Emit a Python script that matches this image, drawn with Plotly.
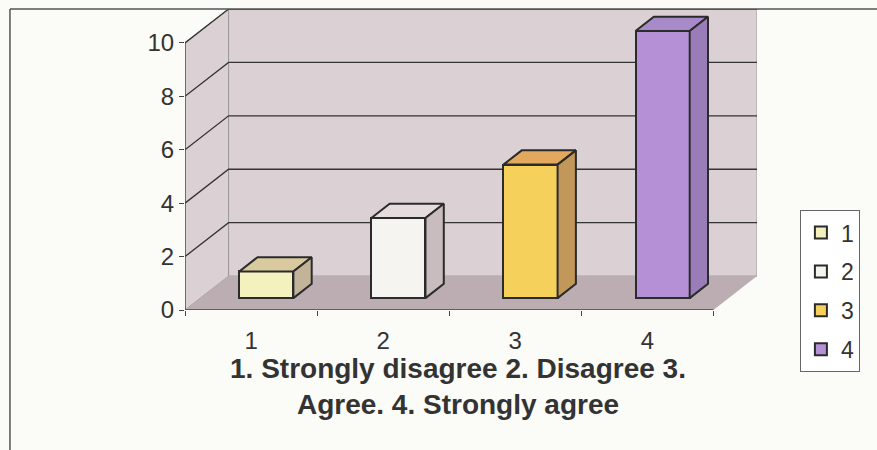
import plotly.graph_objects as go

# ---- data ----
categories = [1, 2, 3, 4]
cat_labels = ["1", "2", "3", "4"]
values = [1, 3, 5, 10]
series_names = ["1", "2", "3", "4"]
y_ticks = [0, 2, 4, 6, 8, 10]
title_text = "<b>1. Strongly disagree 2. Disagree 3.<br>Agree. 4. Strongly agree</b>"

# ---- styling / 3D projection constants ----
front_col = ["#F3F1BE", "#F6F4F0", "#F5D05A", "#B590D6"]
top_col = ["#D8CA9E", "#E4DCDD", "#E2A85E", "#A88AC9"]
side_col = ["#C3B398", "#C8BCBE", "#C2985A", "#9A7CB8"]
WALL = "#DBD1D5"
FLOOR = "#BBADB2"
EDGE = "#2b2b2b"
DX, DY = 0.33, 1.27      # full depth offset in data units
F1, F2 = 0.35, 0.77      # bar depth (front / back fraction)
W = 0.41                 # bar width
XL, XR = 0.5, 4.5
YMAX = 10

fig = go.Figure()
shapes = []

def path(pts):
    return "M" + " L".join(f"{x},{y}" for x, y in pts) + " Z"

# side wall
shapes.append(dict(type="path", xref="x", yref="y", layer="below",
                   path=path([(XL, 0), (XL, YMAX), (XL + DX, YMAX + DY), (XL + DX, DY)]),
                   fillcolor=WALL, line=dict(color="#9a9a9a", width=1)))
# back wall
shapes.append(dict(type="path", xref="x", yref="y", layer="below",
                   path=path([(XL + DX, DY), (XR + DX, DY), (XR + DX, YMAX + DY), (XL + DX, YMAX + DY)]),
                   fillcolor=WALL, line=dict(color="#9a9a9a", width=1)))
# floor
shapes.append(dict(type="path", xref="x", yref="y", layer="below",
                   path=path([(XL, 0), (XR, 0), (XR + DX, DY), (XL + DX, DY)]),
                   fillcolor=FLOOR, line=dict(width=0)))
# gridlines
for v in y_ticks[1:]:
    shapes.append(dict(type="path", xref="x", yref="y", layer="below",
                       path=f"M{XL},{v} L{XL+DX},{v+DY} L{XR+DX},{v+DY}",
                       line=dict(color="#333333", width=1.3)))
# front axes lines
shapes.append(dict(type="line", xref="x", yref="y", layer="below",
                   x0=XL, y0=0, x1=XL, y1=YMAX, line=dict(color="#444", width=1.3)))
shapes.append(dict(type="line", xref="x", yref="y", layer="below",
                   x0=XL, y0=0, x1=XR, y1=0, line=dict(color="#444", width=1.3)))

# frame of the chart area
shapes.append(dict(type="line", xref="paper", yref="paper",
                   x0=-0.306, y0=1.0, x1=1.3, y1=1.0, line=dict(color="#555", width=1.5)))
shapes.append(dict(type="line", xref="paper", yref="paper",
                   x0=-0.306, y0=1.0, x1=-0.306, y1=-0.5, line=dict(color="#555", width=1.5)))

for i, (c, v) in enumerate(zip(categories, values)):
    # front face as a real bar
    fig.add_trace(go.Bar(
        x=[c + F1 * DX], y=[v], base=[F1 * DY], width=W,
        name=series_names[i], legendgroup=series_names[i],
        marker=dict(color=front_col[i], line=dict(color=EDGE, width=2)),
        hoverinfo="skip"))
    xl, xr = c - W / 2, c + W / 2
    top = [(xl + F1 * DX, v + F1 * DY), (xr + F1 * DX, v + F1 * DY),
           (xr + F2 * DX, v + F2 * DY), (xl + F2 * DX, v + F2 * DY), (xl + F1 * DX, v + F1 * DY)]
    side = [(xr + F1 * DX, F1 * DY), (xr + F1 * DX, v + F1 * DY),
            (xr + F2 * DX, v + F2 * DY), (xr + F2 * DX, F2 * DY), (xr + F1 * DX, F1 * DY)]
    for pts, col in ((top, top_col[i]), (side, side_col[i])):
        fig.add_trace(go.Scatter(
            x=[p[0] for p in pts], y=[p[1] for p in pts], mode="lines",
            fill="toself", fillcolor=col, line=dict(color=EDGE, width=2),
            showlegend=False, hoverinfo="skip", legendgroup=series_names[i]))

fig.add_annotation(text=title_text, xref="paper", yref="paper",
                   x=0.477, y=-0.255, xanchor="center", yanchor="middle",
                   showarrow=False, font=dict(size=28, color="#333333"))

fig.update_layout(
    width=877, height=450,
    margin=dict(l=185, r=120, t=9, b=140, autoexpand=False),
    paper_bgcolor="#FBFBF7", plot_bgcolor="#FBFBF7",
    barmode="overlay", bargap=0,
    font=dict(family="Liberation Sans, Arial, sans-serif", color="#333333"),
    shapes=shapes,
    showlegend=True,
    legend=dict(x=1.075, y=0.332, xanchor="left", yanchor="top",
                bgcolor="#FFFFFF", bordercolor="#666", borderwidth=1,
                font=dict(size=23, color="#333"), tracegroupgap=6,
                itemwidth=30),
    xaxis=dict(range=[XL, XR + DX], tickmode="array", tickvals=categories,
               ticktext=cat_labels, ticks="", showgrid=False, zeroline=False,
               showline=False, tickfont=dict(size=24), ticklabelstandoff=14,
               minor=dict(tickmode="array", tickvals=[0.5, 1.5, 2.5, 3.5, 4.5],
                          ticks="outside", ticklen=5, tickcolor="#444", showgrid=False)),
    yaxis=dict(range=[0, YMAX + DY], tickmode="array", tickvals=y_ticks,
               ticks="outside", ticklen=5, tickcolor="#444", showgrid=False,
               zeroline=False, showline=False, tickfont=dict(size=24)),
)

fig.write_html("out.html")
